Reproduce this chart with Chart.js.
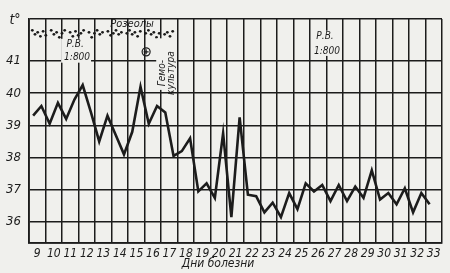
<!DOCTYPE html>
<html><head><meta charset="utf-8">
<script src="https://cdn.jsdelivr.net/npm/chart.js@4"></script>
<style>html,body{margin:0;padding:0;background:#f0f0ed;}#wrap{width:450px;height:273px;}</style>
</head><body><div id="wrap"><canvas id="c" width="450" height="273"></canvas></div>
<script>
// ---- data ----
const days = [9,10,11,12,13,14,15,16,17,18,19,20,21,22,23,24,25,26,27,28,29,30,31,32,33];
const morningTemps = [39.3,39.05,39.2,40.25,38.5,38.7,38.8,39.05,39.4,38.2,36.95,36.75,36.15,36.85,36.3,36.15,36.4,36.95,36.65,36.65,36.75,36.7,36.55,36.3,36.55];
const eveningTemps = [39.6,39.7,39.8,39.4,39.3,38.1,40.2,39.6,38.05,38.6,37.2,38.75,39.25,36.8,36.6,36.9,37.2,37.15,37.15,37.1,37.6,36.9,37.05,36.9,null];
const tempTicks = [36,37,38,39,40,41];
const roseolaFromDay = 9, roseolaToDay = 17;

const points = [];
days.forEach((d,i)=>{
  if (morningTemps[i] != null) points.push({x:d-0.25, y:morningTemps[i]});
  if (eveningTemps[i] != null) points.push({x:d+0.25, y:eveningTemps[i]});
});

const BG = '#f0f0ed', INK = '#1c1c1c';
const FONT = "'Liberation Sans Narrow','DejaVu Sans Condensed','Liberation Sans',sans-serif";
const X_MIN = days[0]-0.5, X_MAX = days[days.length-1]+0.5;
const Y_MIN = 35.35, Y_MAX = 42.3;

const notes = {
  id:'notes',
  afterDraw(chart){
    const {ctx, scales:{x,y}} = chart;
    const X = v=>x.getPixelForValue(v), Y = v=>y.getPixelForValue(v);
    ctx.save();
    ctx.fillStyle = INK; ctx.strokeStyle = INK;
    ctx.textAlign='center'; ctx.textBaseline='middle';
    // t°
    ctx.font = "italic 14px "+FONT;
    ctx.fillText('t°', 15, 20);
    // roseola dots
    const x0 = X(roseolaFromDay-0.3), x1 = X(roseolaToDay+0.2);
    const offs = [0,4,2,6,1,5,3,0,4,2,7,3];
    const yTop = Y(41.95);
    let k=0;
    for (let px=x0; px<=x1; px+=2.7, k++){
      if (k%7===6) continue;
      ctx.beginPath(); ctx.arc(px, yTop+offs[k%offs.length], 1.4, 0, Math.PI*2); ctx.fill();
    }
    // Розеолы
    ctx.font = "italic 11px "+FONT;
    ctx.fillText('Розеолы', X(14.74), Y(42.13));
    // Р.В. boxes
    const box = (cx, cy1, cy2, t1, t2)=>{
      ctx.font = "italic 10px "+FONT;
      const w = Math.max(ctx.measureText(t1).width, ctx.measureText(t2).width)+4;
      ctx.fillStyle = BG;
      ctx.fillRect(cx-w/2, Y(cy1)-6, w, Y(cy2)-Y(cy1)+11);
      ctx.fillStyle = INK;
      ctx.fillText(t1, cx-1, Y(cy1));
      ctx.fillText(t2, cx+1, Y(cy2));
    };
    box(X(11.35), 41.5, 41.1, 'Р.В.', '1:800');
    box(X(26.48), 41.75, 41.31, 'Р.В.', '1:800');
    // ⊕
    const cx = X(15.59), cy = Y(41.28);
    ctx.lineWidth = 1.2;
    ctx.beginPath(); ctx.arc(cx, cy, 4, 0, Math.PI*2); ctx.stroke();
    ctx.beginPath(); ctx.moveTo(cx-2.5,cy); ctx.lineTo(cx+2.5,cy); ctx.moveTo(cx,cy-2.5); ctx.lineTo(cx,cy+2.5); ctx.stroke();
    // Гемо-культура (rotated)
    ctx.fillStyle = BG;
    ctx.fillRect(X(16.2), Y(41.7), X(17.45)-X(16.2), Y(40.1)-Y(41.7));
    ctx.fillStyle = INK;
    ctx.font = "italic 10px "+FONT;
    ctx.save(); ctx.translate(X(16.55), Y(40.62)); ctx.rotate(-Math.PI/2); ctx.fillText('Гемо-', 0, 0); ctx.restore();
    ctx.save(); ctx.translate(X(17.1), Y(40.62)); ctx.rotate(-Math.PI/2); ctx.fillText('культура', 0, 0); ctx.restore();
    // axis caption
    ctx.font = "italic 12px "+FONT;
    ctx.fillText('Дни болезни', 218, 264);
    ctx.restore();
  }
};

Chart.defaults.font.family = FONT;
Chart.defaults.color = INK;

new Chart(document.getElementById('c'), {
  type:'line',
  data:{ datasets:[{
    data: points,
    borderColor: INK, borderWidth: 2.6, pointRadius: 0, tension: 0, fill:false
  }]},
  options:{
    responsive:false, animation:false,
    layout:{padding:{top:19, right:8, left:0, bottom:0}},
    plugins:{legend:{display:false}, tooltip:{enabled:false}},
    scales:{
      x:{
        type:'linear', position:'bottom', min:X_MIN, max:X_MAX,
        afterBuildTicks(s){ const t=[]; for(let v=X_MIN; v<=X_MAX+1e-9; v+=1) t.push({value:v}); s.ticks=t; },
        ticks:{display:false},
        grid:{color:INK, lineWidth:1.5, drawTicks:false},
        border:{color:INK, width:1.8},
        afterFit(s){ s.height = 0; }
      },
      xl:{
        type:'linear', position:'bottom', min:X_MIN, max:X_MAX,
        afterBuildTicks(s){ s.ticks = days.map(d=>({value:d})); },
        ticks:{font:{size:12, style:'italic'}, padding:4, maxRotation:0, autoSkip:false, color:INK,
               callback:(v)=>String(v)},
        grid:{display:false, drawTicks:false},
        border:{display:false},
        afterFit(s){ s.height = 30; }
      },
      y:{
        type:'linear', min:Y_MIN, max:Y_MAX,
        afterBuildTicks(s){ s.ticks = [Y_MIN, ...tempTicks, Y_MAX].map(v=>({value:v})); },
        ticks:{font:{size:13, style:'italic'}, padding:8, color:INK,
               callback:(v)=> tempTicks.includes(v) ? String(v) : ''},
        grid:{color:INK, lineWidth:1.5, drawTicks:false},
        border:{color:INK, width:1.8},
        afterFit(s){ s.width = 29; }
      }
    }
  },
  plugins:[notes]
});
</script>
</body></html>
